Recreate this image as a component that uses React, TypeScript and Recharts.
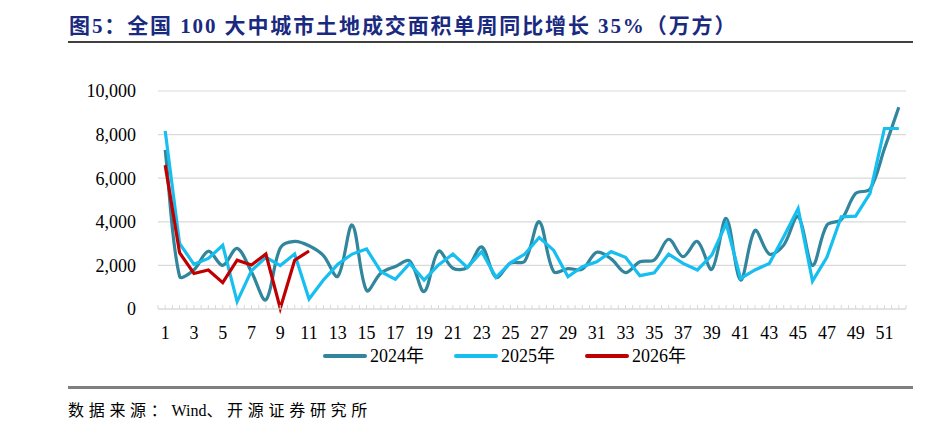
import React from "react";
import { LineChart, Line, XAxis, YAxis, CartesianGrid } from "recharts";

const weeks = [
  "1", "2", "3", "4", "5", "6", "7", "8", "9", "10", "11", "12", "13",
  "14", "15", "16", "17", "18", "19", "20", "21", "22", "23", "24", "25", "26",
  "27", "28", "29", "30", "31", "32", "33", "34", "35", "36", "37", "38", "39",
  "40", "41", "42", "43", "44", "45", "46", "47", "48", "49", "50", "51", "52",
];

const area2024 = [
  7300, 1500, 1800, 2650, 2000, 2780, 1700, 420, 2800, 3100,
  2900, 2450, 1500, 3850, 850, 1650, 1950, 2200, 800, 2650,
  1870, 1900, 2850, 1450, 2100, 2200, 4000, 1720, 1850, 1830,
  2600, 2300, 1670, 2170, 2250, 3200, 2400, 3100, 1820, 4150,
  1330, 3600, 2520, 2930, 4250, 2000, 3850, 4100, 5300, 5500,
  7350, 9250,
];

const area2025 = [
  8170, 3010, 2050, 2320, 2920, 340, 1760, 2370, 1990, 2520,
  460, 1330, 2050, 2520, 2750, 1710, 1360, 2090, 1330, 2020,
  2520, 1910, 2630, 1450, 2120, 2520, 3280, 2700, 1480, 1940,
  2170, 2630, 2370, 1530, 1660, 2520, 2090, 1790, 2470, 3920,
  1400, 1790, 2090, 3310, 4610, 1280, 2370, 4230, 4260, 5300,
  8280, 8280,
];

const area2026 = [6600, 2580, 1630, 1790, 1210, 2240, 2020, 2520, 30, 2240, 2660];

const yTicks = [0, 2000, 4000, 6000, 8000, 10000];

const series = [
  { key: "y2024", name: "2024年", color: "#31859c", smooth: true },
  { key: "y2025", name: "2025年", color: "#17bef0", smooth: false },
  { key: "y2026", name: "2026年", color: "#c00000", smooth: false },
];

const data = weeks.map((w, i) => ({
  week: w,
  y2024: area2024[i],
  y2025: area2025[i],
  y2026: i < area2026.length ? area2026[i] : null,
}));

const SERIF = "'Liberation Serif', 'Times New Roman', 'Noto Sans CJK SC', serif";
const PLOT_LEFT = 158;
const PLOT_RIGHT = 906;
const HALF_BAND = (PLOT_RIGHT - PLOT_LEFT) / weeks.length / 2;

const dist = (a: number[], b: number[]) => Math.hypot(b[0] - a[0], b[1] - a[1]);

// Excel-like smoothing: tangent from neighbours, handle length split by segment lengths
const excelSmooth = (context: any) => {
  let pts: number[][] = [];
  return {
    areaStart() {},
    areaEnd() {},
    lineStart() {
      pts = [];
    },
    lineEnd() {
      if (!pts.length) return;
      context.moveTo(pts[0][0], pts[0][1]);
      const handle = (i: number, forward: boolean) => {
        const p0 = pts[i - 1] || pts[i];
        const p1 = pts[i];
        const p2 = pts[i + 1] || pts[i];
        const d01 = dist(p0, p1);
        const d12 = dist(p1, p2);
        const sum = d01 + d12 || 1;
        const tx = p2[0] - p0[0];
        const ty = p2[1] - p0[1];
        const k = (forward ? d12 : -d01) / sum / 3;
        return [p1[0] + tx * k, p1[1] + ty * k];
      };
      for (let i = 0; i < pts.length - 1; i++) {
        const c1 = handle(i, true);
        const c2 = handle(i + 1, false);
        context.bezierCurveTo(c1[0], c1[1], c2[0], c2[1], pts[i + 1][0], pts[i + 1][1]);
      }
    },
    point(x: number, y: number) {
      pts.push([+x, +y]);
    },
  };
};

const XTick = (props: any) => {
  const { x, y, payload, index } = props;
  const last = index === weeks.length - 1;
  return (
    <g>
      <line x1={x - HALF_BAND} x2={x - HALF_BAND} y1={y} y2={y - 4} stroke="#d9d9d9" />
      <line x1={x} x2={x} y1={y} y2={y - 4} stroke="#d9d9d9" />
      {last && <line x1={x + HALF_BAND} x2={x + HALF_BAND} y1={y} y2={y - 4} stroke="#d9d9d9" />}
      {index % 2 === 0 && (
        <text x={x} y={y + 30} textAnchor="middle" fontSize={18} fill="#000" fontFamily={SERIF}>
          {payload.value}
        </text>
      )}
    </g>
  );
};

export default function App() {
  return (
    <div style={{ position: "absolute", left: 0, top: 0, width: 942, height: 438, background: "#fff", fontFamily: SERIF }}>
      <div
        style={{
          position: "absolute",
          left: 69,
          top: 9,
          fontSize: 21,
          fontWeight: "bold",
          color: "#1a2a80",
          letterSpacing: 1.9,
          whiteSpace: "nowrap",
        }}
      >
        图5：全国 100 大中城市土地成交面积单周同比增长 35%（万方）
      </div>
      <div style={{ position: "absolute", left: 68, top: 41, width: 845, height: 2, background: "#404040" }} />

      <div style={{ position: "absolute", left: 0, top: 0 }}>
        <LineChart width={942} height={438} data={data} margin={{ top: 91, right: 36, bottom: 99, left: 98 }}>
          <CartesianGrid vertical={false} stroke="#d9d9d9" strokeWidth={1.2} />
          <XAxis
            dataKey="week"
            height={30}
            interval={0}
            tickSize={0}
            tickMargin={0}
            tickLine={false}
            padding={{ left: HALF_BAND, right: HALF_BAND }}
            axisLine={{ stroke: "#d9d9d9", strokeWidth: 1.2 }}
            tick={<XTick />}
          />
          <YAxis
            width={60}
            domain={[0, 10000]}
            ticks={yTicks}
            axisLine={false}
            tickLine={false}
            tickSize={0}
            tickMargin={22}
            tick={{ fontSize: 18, fill: "#000", fontFamily: SERIF }}
            tickFormatter={(v: number) => v.toLocaleString("en-US")}
          />
          {series.map((s) => (
            <Line
              key={s.key}
              dataKey={s.key}
              name={s.name}
              type={s.smooth ? (excelSmooth as any) : "linear"}
              stroke={s.color}
              strokeWidth={3.2}
              dot={false}
              activeDot={false}
              isAnimationActive={false}
            />
          ))}
        </LineChart>
      </div>

      <div style={{ position: "absolute", left: 0, top: 345, width: 942, height: 22 }}>
        {series.map((s, i) => (
          <div
            key={s.key}
            style={{ position: "absolute", left: 323 + i * 131, top: 0, height: 22, display: "flex", alignItems: "center" }}
          >
            <div style={{ width: 44, height: 4, background: s.color, borderRadius: 2 }} />
            <span style={{ marginLeft: 3, fontSize: 18, color: "#000", lineHeight: "22px" }}>{s.name}</span>
          </div>
        ))}
      </div>

      <div style={{ position: "absolute", left: 68, top: 386, width: 845, height: 3, background: "#7f7f7f" }} />
      <div style={{ position: "absolute", left: 68, top: 397, fontSize: 16, color: "#000", whiteSpace: "nowrap" }}>
        <span style={{ letterSpacing: 4.7 }}>数据来源：</span>
        <span>Wind</span>
        <span style={{ letterSpacing: 4.7 }}>、开源证券研究所</span>
      </div>
    </div>
  );
}
